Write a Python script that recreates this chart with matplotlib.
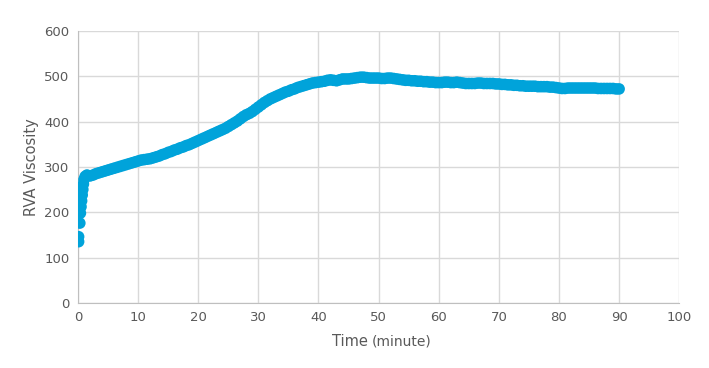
import numpy as np
import matplotlib.pyplot as plt

# readings from the chart (minutes, RVA viscosity)
time_min = [0.1, 0.1, 0.3, 0.4, 0.5, 0.6, 0.7, 0.8, 0.9, 1.0, 1.2, 1.5,
            2.0, 2.5, 3.0, 3.5, 4.0, 4.5, 5.0, 5.5, 6.0, 6.5, 7.0, 7.5, 8.0, 8.5, 9.0, 9.5,
            10.0, 10.5, 11.0, 11.5, 12.0, 12.5, 13.0, 13.5, 14.0, 14.5, 15.0, 15.5, 16.0, 16.5,
            17.0, 17.5, 18.0, 18.5, 19.0, 19.5, 20.0, 20.5, 21.0, 21.5, 22.0, 22.5, 23.0, 23.5,
            24.0, 24.5, 25.0, 25.5, 26.0, 26.5, 27.0, 27.5, 28.0, 28.5, 29.0, 29.5, 30.0, 30.5,
            31.0, 31.5, 32.0, 32.5, 33.0, 33.5, 34.0, 34.5, 35.0, 35.5, 36.0, 36.5, 37.0, 37.5,
            38.0, 38.5, 39.0, 39.5, 40.0, 40.5, 41.0, 41.5, 42.0, 42.5, 43.0, 43.5, 44.0, 44.5,
            45.0, 45.5, 46.0, 46.5, 47.0, 47.5, 48.0, 48.5, 49.0, 49.5, 50.0, 50.5, 51.0, 51.5,
            52.0, 52.5, 53.0, 53.5, 54.0, 54.5, 55.0, 55.5, 56.0, 56.5, 57.0, 57.5, 58.0, 58.5,
            59.0, 59.5, 60.0, 60.5, 61.0, 61.5, 62.0, 62.5, 63.0, 63.5, 64.0, 64.5, 65.0, 65.5,
            66.0, 66.5, 67.0, 67.5, 68.0, 68.5, 69.0, 69.5, 70.0, 70.5, 71.0, 71.5, 72.0, 72.5,
            73.0, 73.5, 74.0, 74.5, 75.0, 75.5, 76.0, 76.5, 77.0, 77.5, 78.0, 78.5, 79.0, 79.5,
            80.0, 80.5, 81.0, 81.5, 82.0, 82.5, 83.0, 83.5, 84.0, 84.5, 85.0, 85.5, 86.0, 86.5,
            87.0, 87.5, 88.0, 88.5, 89.0, 89.5, 90.0]
viscosity = [135, 146, 176, 198, 212, 225, 238, 250, 262, 272, 279, 282,
             280, 282, 285, 287, 289, 291, 293, 295, 297, 299, 301, 303, 305, 307, 309, 311,
             313, 315, 316, 317, 318, 320, 322, 324, 327, 329, 332, 334, 337, 339,
             342, 344, 347, 349, 352, 355, 358, 361, 364, 367, 370, 373, 376, 379,
             382, 385, 389, 393, 397, 401, 406, 411, 415, 418, 422, 427, 432, 437,
             442, 446, 450, 453, 456, 459, 462, 465, 467, 470, 472, 475, 477, 479,
             481, 483, 485, 486, 487, 488, 489, 491, 492, 491, 490, 492, 494, 494,
             494, 495, 496, 497, 498, 498, 497, 496, 496, 496, 496, 495, 495, 496,
             496, 495, 494, 493, 492, 491, 491, 490, 490, 489, 489, 488, 488, 487,
             487, 486, 486, 486, 487, 487, 486, 486, 487, 486, 485, 484, 484, 484,
             484, 485, 485, 484, 484, 484, 484, 483, 483, 482, 482, 481, 481, 480,
             480, 479, 479, 478, 478, 478, 478, 477, 477, 477, 477, 476, 476, 475,
             474, 473, 473, 474, 474, 474, 474, 474, 474, 474, 474, 474, 474, 473,
             473, 473, 473, 473, 473, 472, 472]

blue = '#00A3DA'
grey_text = '#595959'
grid_col = '#D9D9D9'

fig = plt.figure(figsize=(7.09, 3.68), dpi=100)
ax = fig.add_axes([0.110, 0.177, 0.848, 0.739])

ax.scatter(time_min, viscosity, s=70, color=blue, edgecolors='none', zorder=3)

ax.set_xlim(0, 100)
ax.set_ylim(0, 600)
ax.set_xticks(np.arange(0, 101, 10))
ax.set_yticks(np.arange(0, 601, 100))
ax.grid(True, color=grid_col, linewidth=1)
ax.set_axisbelow(True)
for side in ['top', 'right']:
    ax.spines[side].set_visible(False)
for side in ['left', 'bottom']:
    ax.spines[side].set_color('#BFBFBF')
ax.tick_params(length=0, labelsize=9.5, labelcolor=grey_text, pad=6)

ax.set_ylabel('RVA Viscosity', fontsize=10.5, color=grey_text, labelpad=4)

# x label: "Time" bigger than "(minute)"
fig.text(0.468, 0.073, 'Time', fontsize=10.5, color=grey_text, ha='left', va='center')
fig.text(0.524, 0.073, '(minute)', fontsize=10, color=grey_text, ha='left', va='center')

fig.savefig('out.png', dpi=100)
